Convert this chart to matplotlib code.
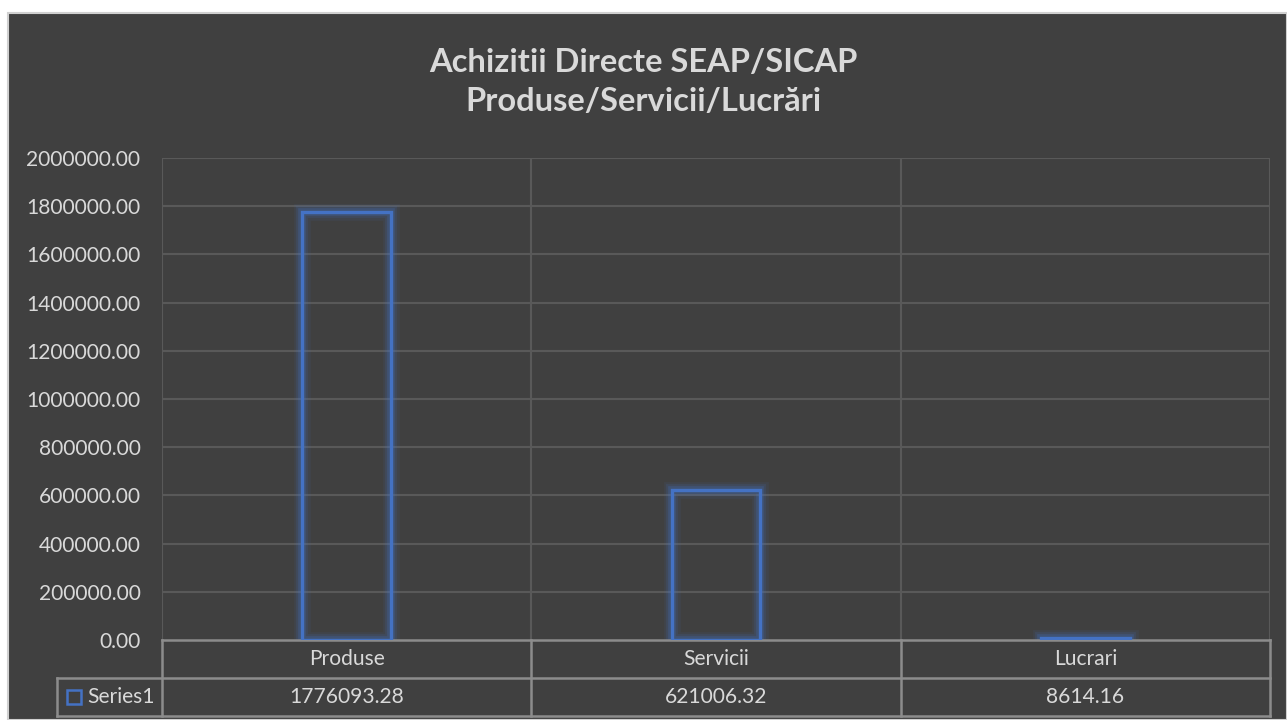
import matplotlib
matplotlib.use('Agg')
import matplotlib.pyplot as plt
import numpy as np

categories = ['Produse', 'Servicii', 'Lucrari']
values = [1776093.28, 621006.32, 8614.16]
series_name = 'Series1'
title = 'Achizitii Directe SEAP/SICAP\nProduse/Servicii/Lucrări'

bg = '#404040'
grid_c = '#595959'
txt_c = '#d9d9d9'
bar_c = '#4472c4'
tbl_c = '#8c8c8c'
fs = 15.1

plt.rcParams['font.family'] = ['Lato', 'DejaVu Sans']

fig = plt.figure(figsize=(12.87, 7.2), dpi=100)
fig.patch.set_facecolor('white')
# dark chart area (white strip at the top/left like the screenshot)
fig.patches.append(plt.Rectangle((8/1287, 0), 1 - 8/1287, 1 - 13/720,
                                 transform=fig.transFigure, facecolor=bg,
                                 edgecolor='#d0d0d0', lw=1.5, zorder=-10))

ax = fig.add_axes([162/1287, 1 - 640/720, (1270-162)/1287, (640-158)/720])
ax.set_facecolor(bg)
x = np.arange(len(categories))
ax.set_xlim(-0.5, len(categories) - 0.5)
ax.set_ylim(0, 2000000)
ax.set_yticks(np.arange(0, 2000001, 200000))
ax.set_yticklabels(['%.2f' % t for t in ax.get_yticks()], color=txt_c, fontsize=fs)
ax.tick_params(axis='y', length=0, pad=15.5)
ax.set_xticks([])
for s in ax.spines.values():
    s.set_visible(False)

for t in ax.get_yticks()[1:]:
    ax.axhline(t, color=grid_c, lw=1.5, zorder=0)
for b in np.arange(-0.5, len(categories) + 0.5, 1.0):
    ax.axvline(b, color=grid_c, lw=1.5, zorder=0)

# bars: outline only with a soft glow
w = 0.24
for lw, a in [(12, 0.09), (8.5, 0.14), (5.5, 0.24)]:
    ax.bar(x, values, width=w, facecolor='none', edgecolor=bar_c, lw=lw, alpha=a, zorder=2)
ax.bar(x, values, width=w, facecolor='none', edgecolor=bar_c, lw=2.4, zorder=3)

# data table under the plot
trans = ax.get_xaxis_transform()
row_h = 38 / (640 - 158)
y0, y1, y2 = 0, -row_h, -2 * row_h
left_ext = -0.5 - (162 - 57) / ((1270 - 162) / 3)
kw = dict(color=tbl_c, lw=1.8, transform=trans, clip_on=False)
ax.plot([-0.5, 2.5], [y0, y0], **kw)
ax.plot([left_ext, 2.5], [y1, y1], **kw)
ax.plot([left_ext, 2.5], [y2, y2], **kw)
ax.plot([left_ext, left_ext], [y1, y2], **kw)
for b in np.arange(-0.5, len(categories) + 0.5, 1.0):
    ax.plot([b, b], [y0, y2], **kw)
for i, c in enumerate(categories):
    ax.text(i, (y0 + y1) / 2, c, transform=trans, ha='center', va='center',
            color=txt_c, fontsize=fs)
    ax.text(i, (y1 + y2) / 2, '%.2f' % values[i], transform=trans, ha='center',
            va='center', color=txt_c, fontsize=fs)
ax.text(-0.5 - 0.019, (y1 + y2) / 2, series_name, transform=trans, ha='right',
        va='center', color=txt_c, fontsize=fs)
mk_x = left_ext + 0.046
ax.plot([mk_x], [(y1 + y2) / 2], marker='s', ms=10, mfc='none', mec=bar_c, mew=1.8,
        transform=trans, clip_on=False)

fig.text(0.5, 1 - 82/720, title, ha='center', va='center', color=txt_c,
         fontsize=23.5, fontweight='bold', linespacing=1.38)

fig.savefig('out.png', dpi=100, facecolor=fig.get_facecolor())
